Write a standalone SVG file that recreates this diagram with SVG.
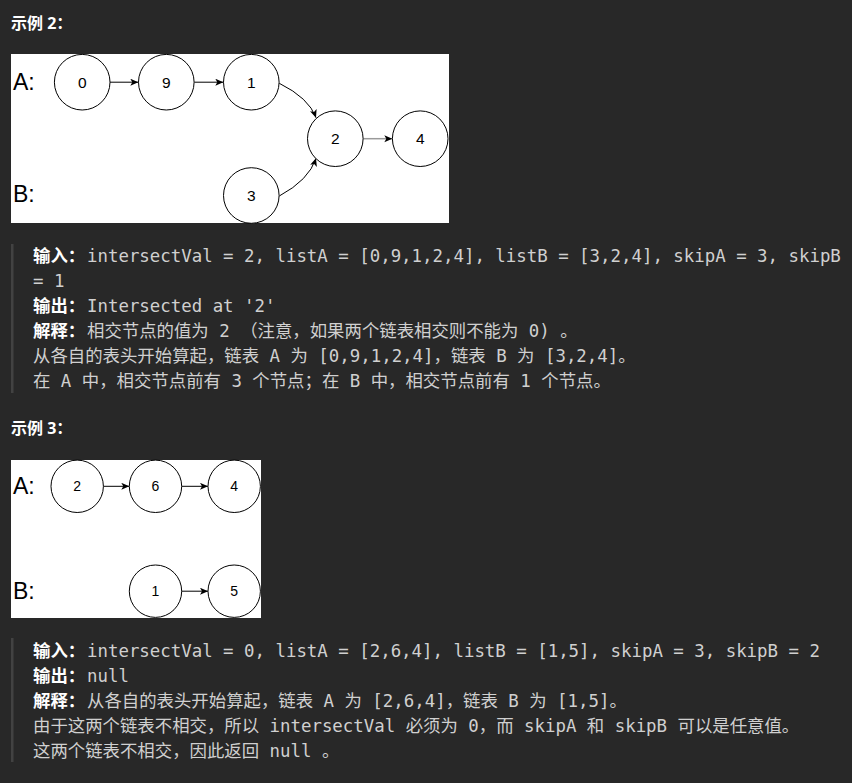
<svg xmlns="http://www.w3.org/2000/svg" width="852" height="783" viewBox="0 0 852 783">
<defs>
<style>
.bg{fill:#282828}
.box{fill:#ffffff}
.nd{fill:#ffffff;stroke:#000000;stroke-width:1}
.lbl{font-family:"Liberation Sans",Arial,sans-serif;fill:#000000;text-anchor:middle}
.ab{font-family:"Liberation Sans",Arial,sans-serif;fill:#000000;font-size:23px}
.edge{fill:none;stroke:#000000;stroke-width:1}
.edge-g{fill:none;stroke:#9a9a9a;stroke-width:1.5}
.h{font-family:"Open Sans","Noto Sans CJK SC",sans-serif;font-weight:bold;font-size:16px;fill:#ffffff}
.k{font-family:"Noto Sans CJK SC",sans-serif;font-weight:bold;font-size:17.4px;fill:#ffffff}
.t{font-family:"DejaVu Sans Mono","Noto Sans CJK SC",monospace;font-size:17.4px;fill:#d0d0d0}
.bar{fill:#424242}
</style>
<marker id="arr" markerUnits="userSpaceOnUse" markerWidth="9" markerHeight="8" refX="8" refY="3.5" orient="auto">
<path d="M0,0 L8,3.5 L0,7 L2,3.5 z" fill="#000000"/>
</marker>
</defs>
<rect class="bg" x="0" y="0" width="852" height="783"/>

<text class="h" x="11" y="29">示例 2：</text>

<g id="diagram2">
<rect class="box" x="11" y="54" width="438" height="169"/>
<text class="ab" x="13" y="89.5">A:</text>
<text class="ab" x="13" y="201.5">B:</text>
<g id="connectors2">
<line class="edge" x1="110" y1="82.2" x2="138.3" y2="82.2" marker-end="url(#arr)"/>
<line class="edge" x1="194.3" y1="82.2" x2="223.3" y2="82.2" marker-end="url(#arr)"/>
<path class="edge" d="M279.3,83.3 Q309,98 316,117.7" marker-end="url(#arr)"/>
<path class="edge" d="M279.3,196 Q309,180 316,158.3" marker-end="url(#arr)"/>
<line class="edge-g" x1="363.3" y1="138.7" x2="392.3" y2="138.7" marker-end="url(#arr)"/>
</g>
<g id="a0"><circle class="nd" cx="82.2" cy="82.2" r="27.8"/><text class="lbl" x="82.2" y="87.5" font-size="15.5">0</text></g>
<g id="a9"><circle class="nd" cx="166.3" cy="82.2" r="27.8"/><text class="lbl" x="166.3" y="87.5" font-size="15.5">9</text></g>
<g id="a1"><circle class="nd" cx="251.3" cy="82.2" r="27.8"/><text class="lbl" x="251.3" y="87.5" font-size="15.5">1</text></g>
<g id="c2"><circle class="nd" cx="335.3" cy="138.7" r="27.8"/><text class="lbl" x="335.3" y="144" font-size="15.5">2</text></g>
<g id="c4"><circle class="nd" cx="420.2" cy="138.7" r="27.8"/><text class="lbl" x="420.2" y="144" font-size="15.5">4</text></g>
<g id="b3"><circle class="nd" cx="251.3" cy="195.5" r="27.8"/><text class="lbl" x="251.3" y="200.8" font-size="15.5">3</text></g>
</g>

<g id="text2">
<rect class="bar" x="11" y="244" width="2.5" height="149"/>
<text class="k" x="33" y="261.5">输入：</text>
<text class="t" x="87" y="261.5">intersectVal = 2, listA = [0,9,1,2,4], listB = [3,2,4], skipA = 3, skipB</text>
<text class="t" x="33" y="286.5">= 1</text>
<text class="k" x="33" y="311.5">输出：</text>
<text class="t" x="87" y="311.5">Intersected at '2'</text>
<text class="k" x="33" y="336.5">解释：</text>
<text class="t" x="87" y="336.5">相交节点的值为 2 （注意，如果两个链表相交则不能为 0) 。</text>
<text class="t" x="33" y="361.5">从各自的表头开始算起，链表 A 为 [0,9,1,2,4]，链表 B 为 [3,2,4]。</text>
<text class="t" x="33" y="386.5">在 A 中，相交节点前有 3 个节点；在 B 中，相交节点前有 1 个节点。</text>
</g>

<text class="h" x="11" y="434">示例 3：</text>

<g id="diagram3">
<rect class="box" x="11" y="460" width="250" height="158"/>
<text class="ab" x="13" y="493.5">A:</text>
<text class="ab" x="13" y="598.5">B:</text>
<g id="connectors3">
<line class="edge" x1="103.4" y1="486.3" x2="129.3" y2="486.3" marker-end="url(#arr)"/>
<line class="edge" x1="181.7" y1="486.3" x2="208" y2="486.3" marker-end="url(#arr)"/>
<line class="edge" x1="181.7" y1="591.2" x2="208" y2="591.2" marker-end="url(#arr)"/>
</g>
<g id="n2"><circle class="nd" cx="77.2" cy="486.3" r="26.2"/><text class="lbl" x="77.2" y="491.3" font-size="14">2</text></g>
<g id="n6"><circle class="nd" cx="155.5" cy="486.3" r="26.2"/><text class="lbl" x="155.5" y="491.3" font-size="14">6</text></g>
<g id="n4"><circle class="nd" cx="234.2" cy="486.3" r="26.2"/><text class="lbl" x="234.2" y="491.3" font-size="14">4</text></g>
<g id="n1"><circle class="nd" cx="155.5" cy="591.2" r="26.2"/><text class="lbl" x="155.5" y="596.2" font-size="14">1</text></g>
<g id="n5"><circle class="nd" cx="234.2" cy="591.2" r="26.2"/><text class="lbl" x="234.2" y="596.2" font-size="14">5</text></g>
</g>

<g id="text3">
<rect class="bar" x="11" y="638" width="2.5" height="124"/>
<text class="k" x="33" y="657">输入：</text>
<text class="t" x="87" y="657">intersectVal = 0, listA = [2,6,4], listB = [1,5], skipA = 3, skipB = 2</text>
<text class="k" x="33" y="682">输出：</text>
<text class="t" x="87" y="682">null</text>
<text class="k" x="33" y="707">解释：</text>
<text class="t" x="87" y="707">从各自的表头开始算起，链表 A 为 [2,6,4]，链表 B 为 [1,5]。</text>
<text class="t" x="33" y="732">由于这两个链表不相交，所以 intersectVal 必须为 0，而 skipA 和 skipB 可以是任意值。</text>
<text class="t" x="33" y="757">这两个链表不相交，因此返回 null 。</text>
</g>
</svg>
